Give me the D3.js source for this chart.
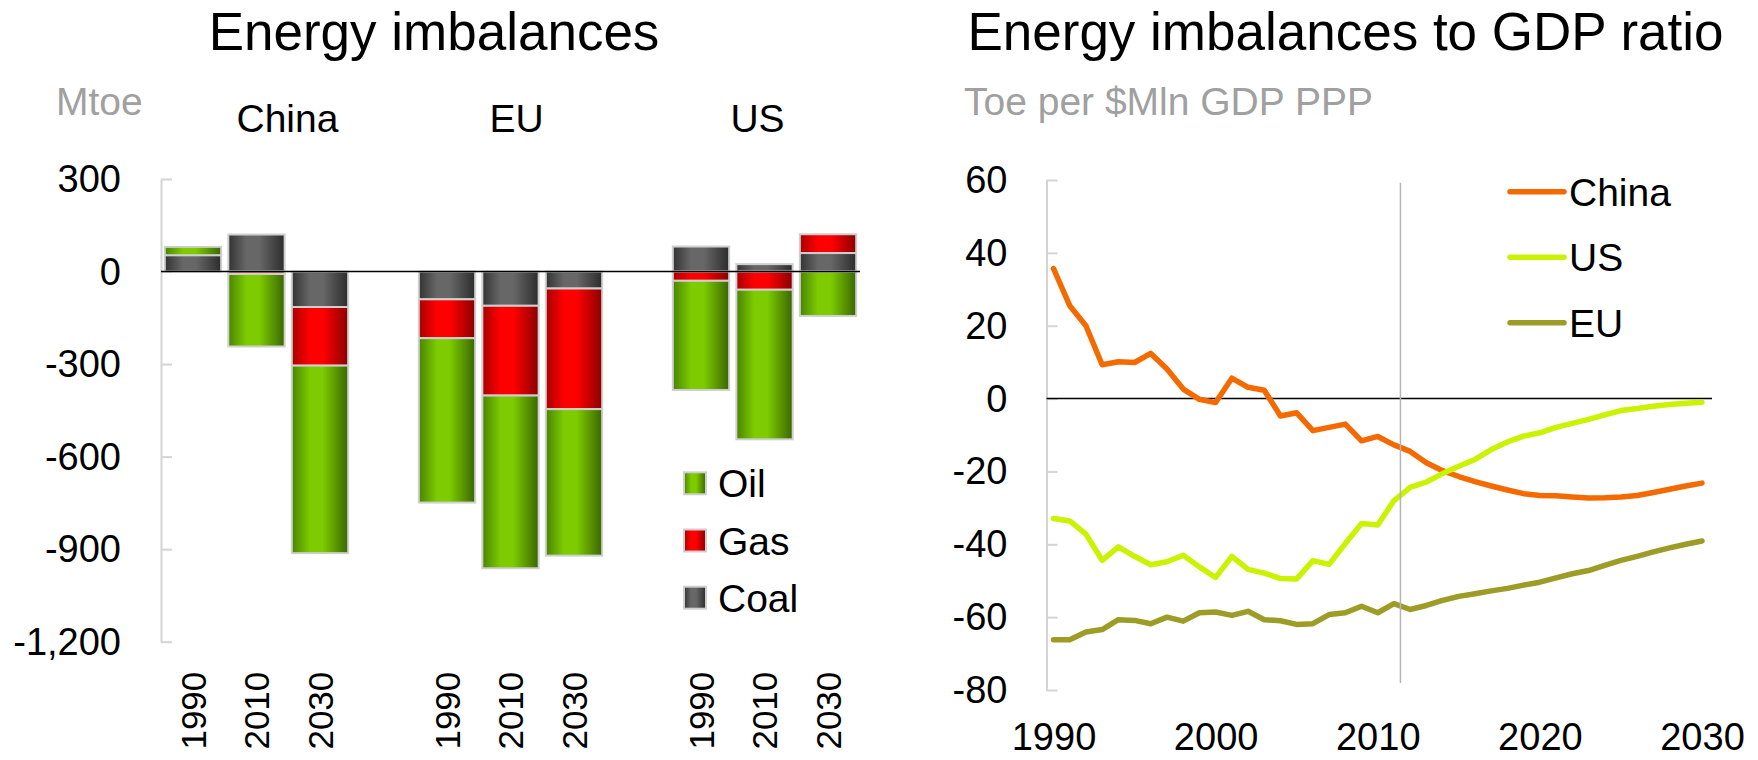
<!DOCTYPE html>
<html>
<head>
<meta charset="utf-8">
<script src="https://cdn.jsdelivr.net/npm/d3@7"></script>
<style>
  body { margin: 0; background: #fff; }
  text { font-family: "Liberation Sans", Arial, sans-serif; }
</style>
</head>
<body>
<svg id="chart" width="1758" height="760"></svg>
<script>
// left panel: energy imbalances, Mtoe (coal, gas, oil stacked)
var regions = ["China", "EU", "US"];
var barYears = ["1990", "2010", "2030"];
var fuels = ["Coal", "Gas", "Oil"];          // stacking order
var legendFuels = ["Oil", "Gas", "Coal"];
// one value per region/year, order: China 1990,2010,2030, EU ..., US ...
var coalValues = [53, 120, -115, -90, -111, -55, 81, 24, 60];
var gasValues = [0, -8, -190, -126, -291, -391, -30, -59, 61];
var oilValues = [27, -235, -608, -533, -560, -475, -354, -485, -144];
var barTicks = [300, 0, -300, -600, -900, -1200];

// right panel: energy imbalances to GDP ratio, toe per $Mln GDP PPP
var years = d3.range(1990, 2031);
var chinaRatio = [35.7, 25.5, 20.0, 9.3, 10.1, 9.9, 12.4, 8.1, 2.6, -0.2,
  -1.1, 5.6, 3.1, 2.3, -4.8, -3.9, -8.8, -7.9, -7.0, -11.6,
  -10.4, -12.7, -14.5, -17.6, -19.8, -21.4, -22.8, -24.0, -25.1, -26.1,
  -26.6, -26.7, -27.0, -27.3, -27.2, -27.0, -26.6, -25.8, -24.9, -24.0, -23.2];
var usRatio = [-32.9, -33.6, -37.2, -44.4, -40.7, -43.3, -45.6, -44.8, -43.0, -46.2,
  -49.1, -43.3, -46.9, -47.9, -49.4, -49.5, -44.5, -45.5, -39.8, -34.3,
  -34.7, -28.0, -24.4, -22.9, -20.6, -18.6, -16.7, -14.0, -11.9, -10.3,
  -9.4, -7.9, -6.8, -5.7, -4.5, -3.3, -2.7, -2.1, -1.6, -1.3, -1.0];
var euRatio = [-66.2, -66.2, -64.1, -63.4, -60.7, -60.9, -61.8, -60.0, -61.1, -58.8,
  -58.6, -59.5, -58.4, -60.7, -61.0, -62.0, -61.8, -59.3, -58.8, -57.0,
  -58.8, -56.3, -57.9, -56.8, -55.4, -54.3, -53.6, -52.8, -52.1, -51.2,
  -50.4, -49.2, -48.1, -47.2, -45.8, -44.4, -43.3, -42.1, -41.0, -40.0, -39.1];
var ratioTicks = [60, 40, 20, 0, -20, -40, -60, -80];
var yearTicks = [1990, 2000, 2010, 2020, 2030];
var projectionStart = 2011.4;

var svg = d3.select("#chart");
var font = "Liberation Sans, Arial, sans-serif";
// plain hyphen for negatives, like the original
var locale = d3.formatLocale({decimal: ".", thousands: ",", grouping: [3], currency: ["$", ""], minus: "-"});

svg.append("rect").attr("width", 1758).attr("height", 760).attr("fill", "#fff");

// gradients for the bars
var defs = svg.append("defs");
var grads = {
    Oil: ["#4a8400", "#7dcb00", "#7dcb00", "#3a6600"],
    Gas: ["#a80000", "#ff0000", "#ff0000", "#8a0000"],
    Coal: ["#333333", "#676767", "#676767", "#2c2c2c"]
};
Object.keys(grads).forEach(function(k) {
    var g = defs.append("linearGradient").attr("id", "grad" + k)
        .attr("x1", "0%").attr("x2", "100%").attr("y1", "0%").attr("y2", "0%");
    [0, 0.32, 0.55, 1].forEach(function(o, i) {
        g.append("stop").attr("offset", o).attr("stop-color", grads[k][i]);
    });
});

// ---------- left panel ----------
var rows = [];
regions.forEach(function(r, ri) {
    barYears.forEach(function(y, yi) {
        var i = ri * barYears.length + yi;
        rows.push({key: r + " " + y, year: y, Coal: coalValues[i], Gas: gasValues[i], Oil: oilValues[i]});
    });
});

var slots = [];
regions.forEach(function(r, ri) {
    barYears.forEach(function(y) { slots.push(r + " " + y); });
    if (ri < regions.length - 1) slots.push("gap" + ri);
});

var x = d3.scaleBand().domain(slots).range([161, 860]).paddingInner(0.113).paddingOuter(0.06);
var y = d3.scaleLinear().domain([-1200, 300]).range([641.7, 179]);

var series = d3.stack().keys(fuels).offset(d3.stackOffsetDiverging)(rows);

var left = svg.append("g");

left.selectAll(".layer")
    .data(series)
    .enter().append("g")
    .attr("class", "layer")
    .attr("fill", function(d) { return "url(#grad" + d.key + ")"; })
  .selectAll("rect")
    .data(function(d) { return d; })
    .enter().append("rect")
    .attr("x", function(d) { return x(d.data.key); })
    .attr("width", x.bandwidth())
    .attr("y", function(d) { return y(Math.max(d[0], d[1])); })
    .attr("height", function(d) { return Math.abs(y(d[0]) - y(d[1])); })
    .attr("stroke", "#cfcfcf")
    .attr("stroke-width", 2)
    .filter(function(d) { return d[0] === d[1]; }).remove();

var yAxisL = d3.axisLeft(y).tickValues(barTicks).tickSizeInner(-11).tickSizeOuter(0)
    .tickPadding(40).tickFormat(locale.format(","));

left.append("g")
    .attr("transform", "translate(161,0)")
    .call(yAxisL)
    .call(function(g) {
        g.select(".domain").attr("stroke", "#d4d4d4").attr("stroke-width", 2);
        g.selectAll(".tick line").attr("stroke", "#d4d4d4").attr("stroke-width", 2);
        g.selectAll(".tick text").attr("font-family", font).attr("font-size", 38)
            .attr("fill", "#000").attr("dy", "0.33em");
    });

// zero line
left.append("line")
    .attr("x1", 161).attr("x2", 860)
    .attr("y1", y(0)).attr("y2", y(0))
    .attr("stroke", "#000").attr("stroke-width", 1.5);

// rotated year labels
var xAxisL = d3.axisBottom(x)
    .tickValues(rows.map(function(d) { return d.key; }))
    .tickFormat(function(d) { return d.split(" ")[1]; })
    .tickSize(0);

left.append("g")
    .attr("transform", "translate(0," + y(-1200) + ")")
    .call(xAxisL)
    .call(function(g) {
        g.select(".domain").remove();
        g.selectAll(".tick text")
            .attr("font-family", font).attr("font-size", 35).attr("fill", "#000")
            .attr("transform", "rotate(-90)")
            .attr("text-anchor", "end")
            .attr("x", -30).attr("y", 0).attr("dy", "0.36em");
    });

// titles
left.append("text").attr("x", 434).attr("y", 50).attr("text-anchor", "middle")
    .attr("font-size", 53).text("Energy imbalances");
left.append("text").attr("x", 56).attr("y", 115)
    .attr("font-size", 39).attr("fill", "#a0a0a0").text("Mtoe");

var regionNudge = [31, 6, -7];
regions.forEach(function(r, i) {
    var mid = x(r + " " + barYears[1]) + x.bandwidth() / 2;
    left.append("text").attr("x", mid + regionNudge[i]).attr("y", 132)
        .attr("text-anchor", "middle").attr("font-size", 39).text(r);
});

// legend
var legL = left.selectAll(".legL").data(legendFuels).enter().append("g")
    .attr("transform", function(d, i) { return "translate(684," + (483.3 + i * 57.2) + ")"; });
legL.append("rect").attr("x", 0).attr("y", -11).attr("width", 22).attr("height", 22)
    .attr("fill", function(d) { return "url(#grad" + d + ")"; })
    .attr("stroke", "#cfcfcf").attr("stroke-width", 2);
legL.append("text").attr("x", 34).attr("dy", "0.36em").attr("font-size", 39)
    .text(function(d) { return d; });

// ---------- right panel ----------
var x2 = d3.scaleLinear().domain([1990, 2030]).range([1053.5, 1702]);
var y2 = d3.scaleLinear().domain([-80, 60]).range([690, 180]);

var right = svg.append("g");

right.append("text").attr("x", 1345.5).attr("y", 50).attr("text-anchor", "middle")
    .attr("font-size", 53).text("Energy imbalances to GDP ratio");
right.append("text").attr("x", 964).attr("y", 115)
    .attr("font-size", 39).attr("fill", "#a0a0a0").text("Toe per $Mln GDP PPP");

var yAxisR = d3.axisLeft(y2).tickValues(ratioTicks).tickSizeInner(-11).tickSizeOuter(0)
    .tickPadding(39).tickFormat(locale.format("d"));

right.append("g")
    .attr("transform", "translate(1046.5,0)")
    .call(yAxisR)
    .call(function(g) {
        g.select(".domain").attr("stroke", "#d4d4d4").attr("stroke-width", 2);
        g.selectAll(".tick line").attr("stroke", "#d4d4d4").attr("stroke-width", 2);
        g.selectAll(".tick text").attr("font-family", font).attr("font-size", 38)
            .attr("fill", "#000").attr("dy", "0.33em");
    });

var xAxisR = d3.axisBottom(x2).tickValues(yearTicks).tickFormat(d3.format("d"))
    .tickSize(0).tickPadding(33);

right.append("g")
    .attr("transform", "translate(0," + y2(-80) + ")")
    .call(xAxisR)
    .call(function(g) {
        g.select(".domain").remove();
        g.selectAll(".tick text").attr("font-family", font).attr("font-size", 38).attr("fill", "#000");
    });

right.append("line")
    .attr("x1", 1046.5).attr("x2", 1712)
    .attr("y1", y2(0)).attr("y2", y2(0))
    .attr("stroke", "#000").attr("stroke-width", 1.5);

var lineSeries = [
    {name: "China", values: chinaRatio, color: "#f46a00"},
    {name: "US", values: usRatio, color: "#cbf200"},
    {name: "EU", values: euRatio, color: "#9c9c26"}
];

var line = d3.line()
    .x(function(d, i) { return x2(years[i]); })
    .y(function(d) { return y2(d); });

right.selectAll(".ratio")
    .data(lineSeries)
    .enter().append("path")
    .attr("class", "ratio")
    .attr("fill", "none")
    .attr("stroke", function(d) { return d.color; })
    .attr("stroke-width", 5.5)
    .attr("stroke-linejoin", "round")
    .attr("stroke-linecap", "round")
    .attr("d", function(d) { return line(d.values); });

// projection divider
right.append("line")
    .attr("x1", x2(projectionStart)).attr("x2", x2(projectionStart))
    .attr("y1", 182.7).attr("y2", 683)
    .attr("stroke", "#b4b4b4").attr("stroke-width", 1.5);

// legend
var legR = right.selectAll(".legR").data(lineSeries).enter().append("g")
    .attr("transform", function(d, i) { return "translate(1510," + (191.7 + i * 65.5) + ")"; });
legR.append("line").attr("x1", 0).attr("x2", 54)
    .attr("stroke", function(d) { return d.color; })
    .attr("stroke-width", 5.5).attr("stroke-linecap", "round");
legR.append("text").attr("x", 59).attr("dy", "0.36em").attr("font-size", 39)
    .text(function(d) { return d.name; });
</script>
</body>
</html>
